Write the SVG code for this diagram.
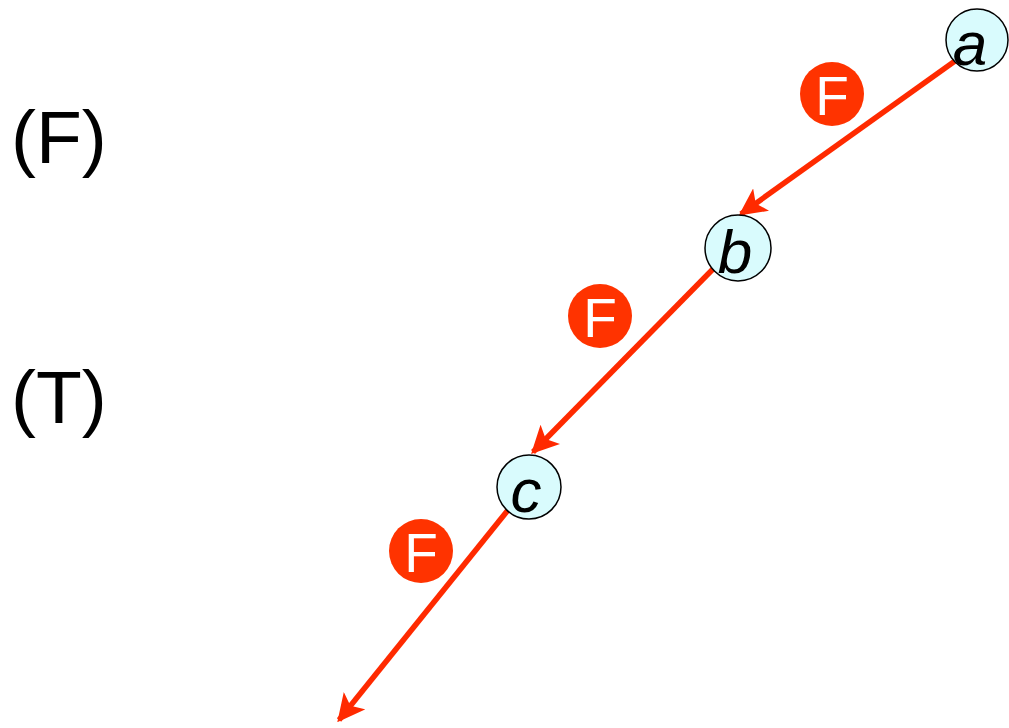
<svg xmlns="http://www.w3.org/2000/svg" width="1009" height="728" viewBox="0 0 1009 728">
<style>
.node{fill:#d9fbfd;stroke:#000;stroke-width:1.5}
.lbl{font-family:"Liberation Sans",Arial,sans-serif;font-style:italic;font-size:62px;fill:#000;text-anchor:middle}
.edge{stroke:#ff2a00;stroke-width:5.5;fill:none;marker-end:url(#ah)}
.badge{fill:#ff3300}
.bt{font-family:"Liberation Sans",Arial,sans-serif;font-size:55px;fill:#fff;text-anchor:middle}
.side{font-family:"Liberation Sans",Arial,sans-serif;font-size:75px;fill:#000}
</style>
<defs>
<marker id="ah" markerWidth="5" markerHeight="5" refX="4.5" refY="2.5" orient="auto" markerUnits="strokeWidth">
<path d="M0,0 L5,2.5 L0,5 L1.2,2.5 z" fill="#ff2a00"/>
</marker>
</defs>
<rect width="1009" height="728" fill="#fff"/>
<g id="labels">
<text class="side" x="11" y="163">(F)</text>
<text class="side" x="11" y="423">(T)</text>
</g>
<g id="connectors">
<line class="edge" x1="955" y1="61" x2="741" y2="214"/>
<line class="edge" x1="714" y1="268" x2="533" y2="452"/>
<line class="edge" x1="508" y1="510" x2="339" y2="720"/>
</g>
<g id="badge1"><circle class="badge" cx="832" cy="94" r="32"/><text class="bt" x="832" y="115">F</text></g>
<g id="badge2"><circle class="badge" cx="600" cy="316" r="32"/><text class="bt" x="600" y="337">F</text></g>
<g id="badge3"><circle class="badge" cx="421" cy="551" r="32"/><text class="bt" x="421" y="572">F</text></g>
<g id="node-a"><circle class="node" cx="977" cy="40" r="31"/><text class="lbl" x="970" y="65">a</text></g>
<g id="node-b"><circle class="node" cx="738" cy="248" r="33"/><text class="lbl" x="735" y="273">b</text></g>
<g id="node-c"><circle class="node" cx="529" cy="487" r="32"/><text class="lbl" x="526" y="512">c</text></g>
</svg>
